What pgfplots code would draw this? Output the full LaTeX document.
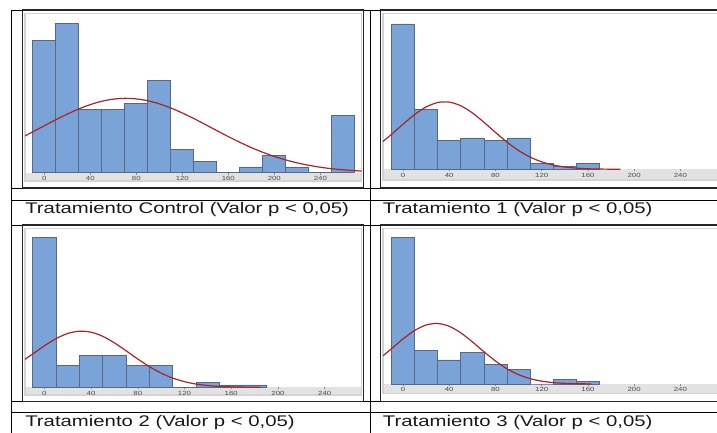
\documentclass[border=0pt]{standalone}
\usepackage{pgfplots}
\pgfplotsset{compat=1.18}
\usepackage{fontspec}
\setmainfont{Liberation Sans}
\definecolor{barblue}{RGB}{122,164,216}
\definecolor{baredge}{RGB}{88,104,132}
\definecolor{curvered}{RGB}{168,36,40}
\definecolor{bandgray}{RGB}{226,226,226}
\definecolor{bordergray}{RGB}{212,212,212}
\pgfplotsset{hist/.style={scale only axis, anchor=south west, ymin=0,
  axis line style={draw=none}, ytick=\empty, xtick={0,40,...,240},
  xtick pos=left, tick align=outside, major tick length=2pt,
  xtick style={draw=black!45, line width=0.5pt},
  xticklabel style={font=\fontsize{6}{6}\selectfont, text=black!70, xscale=1.3, inner sep=1.5pt},
  /pgf/number format/assume math mode=true, clip=true},
  bars/.style={ybar interval, fill=barblue, draw=baredge, line width=0.7pt},
  fit/.style={smooth, draw=curvered, line width=1.2pt, mark=none}}
\begin{document}
\begin{tikzpicture}[x=1pt,y=1pt]
\useasboundingbox (0,0) rectangle (717,432);
\clip (0,0) rectangle (717,432);
% table lines
\begin{scope}[line width=0.9pt, black]
\draw (11,422) -- (720,422);
\draw (11,244) -- (720,244);
\draw (11,231.3) -- (720,231.3);
\draw (11,207) -- (720,207);
\draw (11,30.3) -- (720,30.3);
\draw (11,19.3) -- (720,19.3);
\draw (11,422) -- (11,-2);
\draw (370.7,422) -- (370.7,-2);
\end{scope}
% image frames
\begin{scope}[line width=1.3pt, black!85]
\draw (22.7,244) rectangle (363.3,422);
\draw (380.7,244) rectangle (722,422);
\draw (22.7,30.3) rectangle (363.3,207);
\draw (380.7,30.3) rectangle (722,207);
\end{scope}
% plot backgrounds
\fill[bandgray] (25,251) rectangle (361.5,259.3);
\draw[bordergray, line width=1.5pt] (25,251) rectangle (361.5,418.5);
\fill[bandgray] (383,252) rectangle (719,262.7);
\draw[bordergray, line width=1.5pt] (383,252) rectangle (719,418.3);
\fill[bandgray] (25,37) rectangle (361.5,44.7);
\draw[bordergray, line width=1.5pt] (25,37) rectangle (361.5,203.5);
\fill[bandgray] (383,38.5) rectangle (719,48);
\draw[bordergray, line width=1.5pt] (383,38.5) rectangle (719,203.5);
% Panel 1: Control
\begin{axis}[hist, at={(25pt,259.3pt)}, width=336.5pt, height=159.2pt,
  xmin=-16.8, xmax=275.8, ymax=27.7]
\addplot[bars] coordinates {(-10,23) (10,26) (30,11) (50,11) (70,12) (90,16) (110,4) (130,2) (150,0) (170,1) (190,3) (210,1) (230,0) (250,10) (270,0)};
\addplot[fit] coordinates {(-20,6.08) (-10,7.11) (0,8.17) (10,9.21) (20,10.20) (30,11.10) (40,11.85) (50,12.43) (60,12.80) (70,12.94) (80,12.84) (90,12.52) (100,11.98) (110,11.26) (120,10.39) (130,9.42) (140,8.38) (150,7.32) (160,6.28) (170,5.29) (180,4.37) (190,3.55) (200,2.83) (210,2.22) (220,1.70) (230,1.29) (240,0.95) (250,0.69) (260,0.50) (270,0.35) (280,0.24)};
\end{axis}
% Panel 2: Tratamiento 1
\begin{axis}[hist, at={(383pt,262.7pt)}, width=336pt, height=155pt,
  xmin=-17.3, xmax=273.4, ymax=54.4]
\addplot[bars] coordinates {(-10,51) (10,21) (30,10) (50,11) (70,10) (90,11) (110,2) (130,1) (150,2) (170,0)};
\addplot[fit] coordinates {(-20,8.90) (-10,12.23) (0,15.81) (10,19.19) (20,21.88) (30,23.43) (40,23.58) (50,22.29) (60,19.80) (70,16.51) (80,12.94) (90,9.53) (100,6.59) (110,4.28) (120,2.61) (130,1.50) (140,0.81) (150,0.41) (160,0.19) (170,0.09) (180,0.04) (188,0.02)};
\end{axis}
% Panel 3: Tratamiento 2
\begin{axis}[hist, at={(25pt,44.7pt)}, width=336.5pt, height=158.8pt,
  xmin=-16.5, xmax=271.5, ymax=65.6]
\addplot[bars] coordinates {(-10,62) (10,9) (30,13) (50,13) (70,9) (90,9) (110,0) (130,2) (150,1) (170,1) (190,0)};
\addplot[fit] coordinates {(-20,10.38) (-10,13.73) (0,17.11) (10,20.09) (20,22.23) (30,23.17) (40,22.76) (50,21.07) (60,18.37) (70,15.10) (80,11.69) (90,8.53) (100,5.86) (110,3.80) (120,2.32) (130,1.33) (140,0.72) (150,0.37) (160,0.18) (170,0.08) (180,0.03) (185,0.02)};
\end{axis}
% Panel 4: Tratamiento 3
\begin{axis}[hist, at={(383pt,48pt)}, width=336pt, height=155.5pt,
  xmin=-17.3, xmax=273.4, ymax=64.7]
\addplot[bars] coordinates {(-10,61) (10,14) (30,10) (50,13) (70,8) (90,6) (110,0) (130,2) (150,1) (170,0)};
\addplot[fit] coordinates {(-20,10.67) (-10,14.67) (0,18.73) (10,22.24) (20,24.54) (30,25.18) (40,24.01) (50,21.29) (60,17.54) (70,13.43) (80,9.57) (90,6.33) (100,3.90) (110,2.23) (120,1.18) (130,0.58) (140,0.27) (150,0.12) (160,0.05) (163,0.04)};
\end{axis}
% captions
\begin{scope}[every node/.style={anchor=base west, inner sep=0pt, font=\fontsize{15.4}{18}\selectfont, text=black!90, xscale=1.32}]
\node at (25,218.7) {Tratamiento Control (Valor p < 0,05)};
\node at (382.7,218.7) {Tratamiento 1 (Valor p < 0,05)};
\node at (25,5.3) {Tratamiento 2 (Valor p < 0,05)};
\node at (382.7,5.3) {Tratamiento 3 (Valor p < 0,05)};
\end{scope}
\end{tikzpicture}
\end{document}
